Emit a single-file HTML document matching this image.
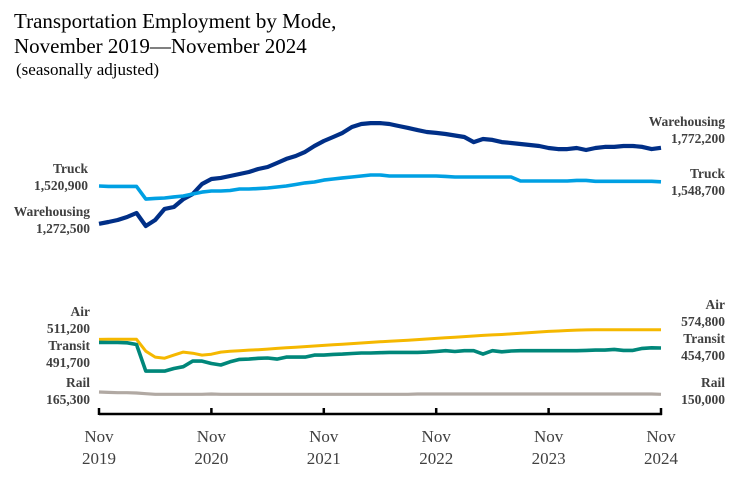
<!DOCTYPE html>
<html><head><meta charset="utf-8">
<style>
body{margin:0;background:#fff;}
svg{display:block;font-family:"Liberation Serif",serif;}
.lab{font-size:13.5px;font-weight:bold;fill:#404040;}
.ax{font-size:17px;fill:#404040;}
</style></head>
<body>
<svg id="chart" width="732" height="480">
<text x="14" y="28" font-size="21" fill="#000">Transportation Employment by Mode,</text>
<text x="14" y="53" font-size="21" fill="#000">November 2019—November 2024</text>
<text x="16" y="75" font-size="17" fill="#000">(seasonally adjusted)</text>
<g id="lines"></g>
<g id="axis"></g>
<g id="labels"></g>
</svg>
<script>
const tickLabels=[["Nov","2019"],["Nov","2020"],["Nov","2021"],["Nov","2022"],["Nov","2023"],["Nov","2024"]];
const warehousing=[1272.5,1284,1297,1317,1343,1258,1297,1370,1383,1435,1468,1534,1567,1574,1587,1600,1613,1633,1646,1672,1699,1718,1745,1784,1817,1843,1870,1909,1929,1935,1935,1929,1916,1903,1889,1876,1870,1863,1853,1843,1810,1830,1824,1810,1804,1797,1791,1784,1771,1764,1764,1771,1758,1771,1778,1778,1784,1784,1778,1764,1772.2];
const truck=[1520.9,1518,1518,1518,1518,1435,1439,1442,1449,1455,1468,1481,1488,1488,1491,1501,1501,1504,1508,1514,1521,1531,1541,1547,1560,1567,1574,1580,1587,1593,1593,1587,1587,1587,1587,1587,1587,1584,1580,1580,1580,1580,1580,1580,1580,1554,1554,1554,1554,1554,1554,1558,1558,1552,1552,1552,1552,1552,1552,1552,1548.7];
const air=[511.2,513,513,513,512,434,395,388,408,428,421,408,414,428,434,437,441,444,448,452,456,460,464,468,472,476,480,484,488,492,496,500,503,506,510,514,518,522,526,530,534,538,541,544,548,552,556,560,564,567,570,573,574,575,575,575,575,575,575,575,574.8];
const transit=[491.7,491,491,489,478,303,303,303,320,332,369,369,353,343,364,380,382,387,389,382,395,395,395,408,408,413,415,419,422,422,424,426,426,426,426,428,432,437,432,437,437,415,437,430,435,437,437,437,437,437,437,437,439,441,441,446,439,439,452,456,454.7];
const rail=[165.3,163,161,161,159,154,150,150,150,150,150,150,152,150,150,150,150,150,150,150,150,150,150,150,150,150,150,150,150,150,150,150,150,150,152,152,152,152,152,152,152,152,152,152,152,152,152,152,152,152,152,152,152,152,152,152,152,152,152,152,150.0];
const x=m=>99+m*(661-99)/60;
const y=v=>186+(1520.9-v)/6.58;
const NS="http://www.w3.org/2000/svg";
const series=[["warehousing-line",warehousing,"#002F87",4.2],["truck-line",truck,"#00A0E3",3.6],["air-line",air,"#F5B800",3],["transit-line",transit,"#00877A",3.6],["rail-line",rail,"#B1A9A3",3.2]];
const g=document.getElementById("lines");
series.forEach(s=>{
 const p=document.createElementNS(NS,"polyline");
 
 
 p.setAttribute("points",s[1].map((v,i)=>x(i).toFixed(1)+","+y(v).toFixed(1)).join(" "));
 p.setAttribute("fill","none");p.setAttribute("stroke",s[2]);p.setAttribute("stroke-width",s[3]);p.setAttribute("stroke-linejoin","round");
 g.appendChild(p);
});
const ax=document.getElementById("axis");
const base=document.createElementNS(NS,"line");


base.setAttribute("x1",99);base.setAttribute("x2",662);base.setAttribute("y1",414);base.setAttribute("y2",414);base.setAttribute("stroke","#000");base.setAttribute("stroke-width",2.5);
ax.appendChild(base);
tickLabels.forEach((t,i)=>{
 const xx=x(i*12);
 const tk=document.createElementNS(NS,"line");
 
 
 tk.setAttribute("x1",xx);tk.setAttribute("x2",xx);tk.setAttribute("y1",408);tk.setAttribute("y2",415);tk.setAttribute("stroke","#000");tk.setAttribute("stroke-width",2.5);
 ax.appendChild(tk);
 t.forEach((s,j)=>{
  const tx=document.createElementNS(NS,"text");
  
  
  tx.setAttribute("x",xx);tx.setAttribute("y",442+j*22);tx.setAttribute("text-anchor","middle");tx.setAttribute("class","ax");
  tx.textContent=s;ax.appendChild(tx);
 });
});
const labels=[["truck-start-label",["Truck","1,520,900"],88,173,"end"],["warehousing-start-label",["Warehousing","1,272,500"],90,216,"end"],["air-start-label",["Air","511,200"],90,316,"end"],["transit-start-label",["Transit","491,700"],90,350,"end"],["rail-start-label",["Rail","165,300"],90,387,"end"],
["warehousing-end-label",["Warehousing","1,772,200"],725,126,"end"],["truck-end-label",["Truck","1,548,700"],725,178,"end"],["air-end-label",["Air","574,800"],725,309,"end"],["transit-end-label",["Transit","454,700"],725,343,"end"],["rail-end-label",["Rail","150,000"],725,387,"end"]];
const lg=document.getElementById("labels");
labels.forEach(l=>{
 l[1].forEach((s,j)=>{
  const tx=document.createElementNS(NS,"text");
  
  
  tx.setAttribute("x",l[2]);tx.setAttribute("y",l[3]+j*17);tx.setAttribute("text-anchor",l[4]);tx.setAttribute("class","lab");
  tx.textContent=s;lg.appendChild(tx);
 });
});
</script>
</body></html>
